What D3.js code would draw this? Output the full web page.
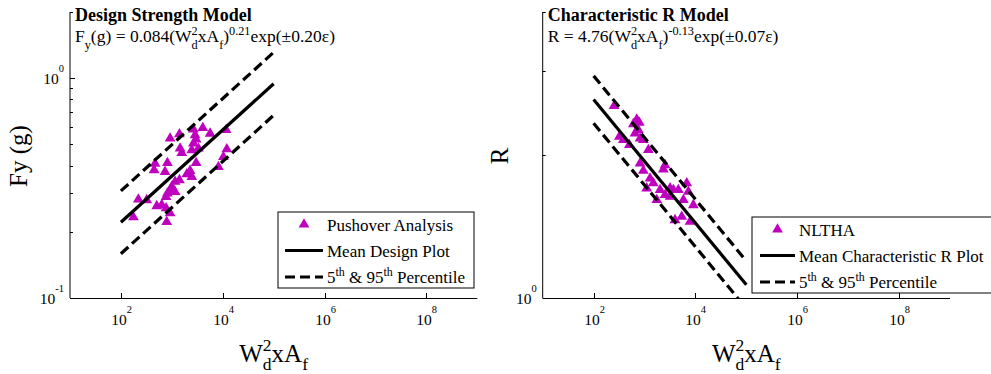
<!DOCTYPE html>
<html><head><meta charset="utf-8">
<script src="https://cdn.jsdelivr.net/npm/d3@7"></script>
<style>
body{margin:0;background:#fff}
svg{display:block}
text{font-family:"Liberation Serif","Times New Roman",serif;fill:#000;white-space:pre}
</style>
</head><body>
<svg id="chart" width="991" height="374"></svg>
<script>
// ---------------- data ----------------
const xTickExponents = [2, 4, 6, 8];
const leftYMajorExp = [-1, 0];
const leftYMinor = [0.2, 0.3, 0.4, 0.5, 0.6, 0.7, 0.8, 0.9, 2];
const rightYMajorExp = [0];
const rightYMinor = [2, 3, 4];

// Design strength model: pushover analysis points
const leftX = [925,1409,2655,4055,5650,11640,2865,3000,2655,3330,1452,1567,2466,469,818,448,736,3000,2285,1968,2466,1409,1159,997,925,818,1159,771,220,321,506,634,771,925,176,794,12020,10300,8220];
const leftY = [0.532,0.556,0.585,0.594,0.560,0.581,0.551,0.526,0.505,0.479,0.479,0.457,0.471,0.409,0.412,0.382,0.375,0.412,0.379,0.366,0.356,0.344,0.338,0.321,0.310,0.299,0.304,0.288,0.281,0.279,0.262,0.265,0.256,0.243,0.233,0.222,0.475,0.438,0.395];
// fit lines (end points)
const leftFitX = [100, 100000];
const leftMean = [0.221, 0.943];
const leftUpper = [0.307, 1.311];
const leftLower = [0.159, 0.678];

// Characteristic R model: NLTHA points
const rightX = [252,703,603,791,755,650,817,320,383,503,948,1189,817,948,2530,2344,1282,1489,1104,2018,3170,3685,4616,6745,7260,2530,3170,1738,5800,9100,3970,5380,7830];
const rightY = [2.536,2.377,2.324,2.339,2.258,2.222,2.168,2.186,2.151,2.10,2.151,2.05,1.921,1.854,1.905,1.866,1.786,1.744,1.702,1.688,1.702,1.688,1.688,1.744,1.674,1.648,1.634,1.608,1.608,1.569,1.459,1.483,1.448];
const rightFitX = [100, 100000];
const rightMean = [2.616, 1.066];
const rightUpper = [2.935, 1.196];
const rightLower = [2.332, 0.950];

// ---------------- helpers ----------------
const svg = d3.select('#chart');
const MAG = '#bf00bf';
const FONT = '"Liberation Serif", "Times New Roman", serif';

// rich text: segments [{t, k:'n'|'sub'|'sup'|'ss'}]
function rich(parent, x, y, segs, o) {
  o = Object.assign({size: 17, weight: 'normal', anchor: 'start', rotate: 0,
    small: 0.7, supShift: 0.4, subShift: 0.4}, o || {});
  const g = parent.append('g').attr('transform', `translate(${x},${y}) rotate(${o.rotate})`);
  const inner = g.append('g');
  let cx = 0, lastStart = 0;
  segs.forEach(s => {
    const k = s.k || 'n';
    const fs = k === 'n' ? o.size : (o.smallSize || o.size * o.small);
    const dy = k === 'sub' ? o.size * o.subShift : (k === 'sup' || k === 'ss') ? -o.size * o.supShift : 0;
    const sx = k === 'ss' ? lastStart : cx;
    const t = inner.append('text').attr('x', sx).attr('y', dy)
      .attr('xml:space', 'preserve')
      .attr('font-family', FONT)
      .attr('font-size', fs).attr('font-weight', o.weight).text(s.t);
    const w = t.node().getComputedTextLength();
    if (k === 'ss') cx = Math.max(cx, sx + w); else { cx = sx + w; lastStart = sx; }
  });
  const shift = o.anchor === 'middle' ? -cx / 2 : o.anchor === 'end' ? -cx : 0;
  inner.attr('transform', `translate(${shift},0)`);
  return g;
}

function panel(cfg) {
  const x = d3.scaleLog().domain([10, 1e9]).range([cfg.left, cfg.left + 407.3]);
  const y = d3.scaleLog().domain(cfg.yDomain).range([298, 12]);
  const g = svg.append('g');
  const clipId = 'clip' + cfg.id;
  svg.append('clipPath').attr('id', clipId).append('rect')
    .attr('x', cfg.left).attr('y', 12).attr('width', 407.3).attr('height', 286);

  // scatter
  const plot = g.append('g').attr('clip-path', `url(#${clipId})`);
  const tri = d3.symbol().type(d3.symbolTriangle).size(50);
  plot.selectAll('path.pt').data(cfg.px.map((v, i) => [v, cfg.py[i]])).join('path')
    .attr('class', 'pt').attr('d', tri)
    .attr('transform', d => `translate(${x(d[0])},${y(d[1])})`)
    .attr('fill', MAG);

  // fit lines
  const line = d3.line().x(d => x(d[0])).y(d => y(d[1]));
  const mk = arr => cfg.fitX.map((v, i) => [v, arr[i]]);
  [[cfg.upper, true], [cfg.lower, true], [cfg.mean, false]].forEach(([arr, dash]) => {
    plot.append('path').attr('d', line(mk(arr))).attr('fill', 'none')
      .attr('stroke', '#000').attr('stroke-width', 3.2)
      .attr('stroke-dasharray', dash ? '10,5' : null);
  });

  // axes
  g.append('line').attr('x1', cfg.left).attr('x2', cfg.left).attr('y1', 12).attr('y2', 298)
    .attr('stroke', '#000').attr('stroke-width', 1);
  g.append('line').attr('x1', cfg.left).attr('x2', cfg.left + 407.3).attr('y1', 298.5).attr('y2', 298.5)
    .attr('stroke', '#000').attr('stroke-width', 1);

  // x ticks
  xTickExponents.forEach(e => {
    const px = Math.round(x(Math.pow(10, e))) + 0.5;
    g.append('line').attr('x1', px).attr('x2', px).attr('y1', 298).attr('y2', 293).attr('stroke', '#000');
    rich(g, px, 325, [{t: '10'}, {t: String(e), k: 'sup'}],
      {size: 15.5, smallSize: 10.5, supShift: 0.8, anchor: 'middle'});
  });
  // y ticks
  cfg.yMajor.forEach(e => {
    const py = Math.round(y(Math.pow(10, e))) + 0.5;
    g.append('line').attr('x1', cfg.left).attr('x2', cfg.left + 5).attr('y1', py).attr('y2', py).attr('stroke', '#000');
    rich(g, cfg.left - 6, py + 5.5, [{t: '10'}, {t: String(e), k: 'sup'}],
      {size: 15.5, smallSize: 10.5, supShift: 0.8, anchor: 'end'});
  });
  cfg.yMinor.forEach(v => {
    const py = Math.round(y(v)) + 0.5;
    g.append('line').attr('x1', cfg.left).attr('x2', cfg.left + 3).attr('y1', py).attr('y2', py).attr('stroke', '#000');
  });

  // titles
  rich(g, cfg.left + 5, 21, [{t: cfg.title}], {size: 18, weight: 'bold'});
  rich(g, cfg.left + 5, 41.5, cfg.eq, {size: 17.5});

  // axis labels
  rich(g, cfg.left + 203.6, 361.5,
    [{t: 'W'}, {t: 'd', k: 'sub'}, {t: '2', k: 'ss'}, {t: 'xA'}, {t: 'f', k: 'sub'}],
    {size: 25, supShift: 0.42, subShift: 0.34, anchor: 'middle'});
  rich(g, cfg.yLabelX, 156, [{t: cfg.yLabel}], {size: 25, anchor: 'middle', rotate: -90});

  // legend
  const L = cfg.legend;
  g.append('rect').attr('x', L.x).attr('y', L.y).attr('width', L.w).attr('height', 76)
    .attr('fill', '#fff').attr('stroke', '#000').attr('stroke-width', 1);
  const rows = [L.y + 12.5, L.y + 38.5, L.y + 65];
  g.append('path').attr('d', tri).attr('fill', MAG)
    .attr('transform', `translate(${L.x + L.lineX0 + (L.lineX1 - L.lineX0) / 2},${rows[0]})`);
  g.append('line').attr('x1', L.x + L.lineX0).attr('x2', L.x + L.lineX1).attr('y1', rows[1]).attr('y2', rows[1])
    .attr('stroke', '#000').attr('stroke-width', 3.2);
  g.append('line').attr('x1', L.x + L.lineX0).attr('x2', L.x + L.lineX1).attr('y1', rows[2]).attr('y2', rows[2])
    .attr('stroke', '#000').attr('stroke-width', 3.2).attr('stroke-dasharray', '10,5');
  const tx = L.x + L.lineX1 + 4;
  rich(g, tx, rows[0] + 6, [{t: L.labels[0]}], {size: 17});
  rich(g, tx, rows[1] + 6, [{t: L.labels[1]}], {size: 17});
  rich(g, tx, rows[2] + 6, [{t: '5'}, {t: 'th', k: 'sup'}, {t: ' & 95'}, {t: 'th', k: 'sup'}, {t: ' Percentile'}], {size: 17});
}

panel({
  id: 'L', left: 70, yDomain: [0.1, 2], px: leftX, py: leftY,
  fitX: leftFitX, mean: leftMean, upper: leftUpper, lower: leftLower,
  yMajor: leftYMajorExp, yMinor: leftYMinor,
  title: 'Design Strength Model',
  eq: [{t: 'F'}, {t: 'y', k: 'sub'}, {t: '(g) = 0.084(W'}, {t: 'd', k: 'sub'}, {t: '2', k: 'ss'},
       {t: 'xA'}, {t: 'f', k: 'sub'}, {t: ')'}, {t: '0.21', k: 'sup'}, {t: 'exp(\u00b10.20\u03b5)'}],
  yLabel: 'Fy (g)', yLabelX: 27,
  legend: {x: 278, y: 212, w: 196, lineX0: 7, lineX1: 45, labels: ['Pushover Analysis', 'Mean Design Plot']}
});

panel({
  id: 'R', left: 542.7, yDomain: [1, 4], px: rightX, py: rightY,
  fitX: rightFitX, mean: rightMean, upper: rightUpper, lower: rightLower,
  yMajor: rightYMajorExp, yMinor: rightYMinor,
  title: 'Characteristic R Model',
  eq: [{t: 'R = 4.76(W'}, {t: 'd', k: 'sub'}, {t: '2', k: 'ss'},
       {t: 'xA'}, {t: 'f', k: 'sub'}, {t: ')'}, {t: '-0.13', k: 'sup'}, {t: 'exp(\u00b10.07\u03b5)'}],
  yLabel: 'R', yLabelX: 508,
  legend: {x: 752, y: 217, w: 245, lineX0: 8, lineX1: 43, labels: ['NLTHA', 'Mean Characteristic R Plot']}
});
</script>
</body></html>
